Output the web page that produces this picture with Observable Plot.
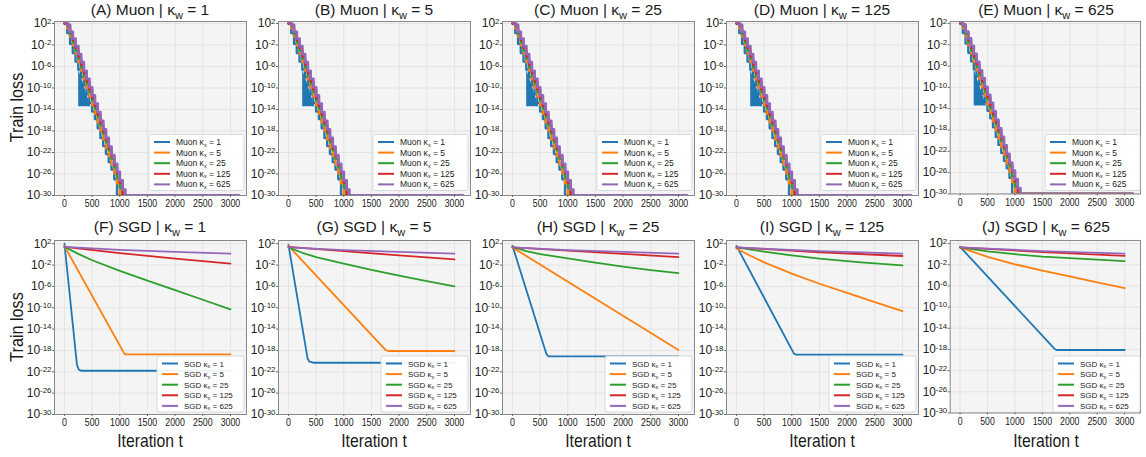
<!DOCTYPE html>
<html><head><meta charset="utf-8">
<script src="https://cdn.jsdelivr.net/npm/d3@7"></script>
<script src="https://cdn.jsdelivr.net/npm/@observablehq/plot@0.6"></script>
<style>
html,body{margin:0;padding:0;background:#fff;}
#root{position:relative;width:1146px;height:457px;overflow:hidden;font-family:"Liberation Sans",Arial,sans-serif;}
.panel{position:absolute;}
.panel svg{overflow:visible;}
#overlay{position:absolute;left:0;top:0;}
</style></head><body><div id="root"></div>
<script>
// ---------- data ----------
const KAPPA = [1, 5, 25, 125, 625];
const COLORS = ["#1f77b4", "#ff7f0e", "#2ca02c", "#d62728", "#9467bd"];
const TOP_LETTERS = ["A", "B", "C", "D", "E"];
const BOTTOM_LETTERS = ["F", "G", "H", "I", "J"];
const ITER_TICKS = [0, 500, 1000, 1500, 2000, 2500, 3000];
const LOSS_TICK_EXP = [2, -2, -6, -10, -14, -18, -22, -26, -30];

// Muon: log10(train loss) at these iterations (same picture in every Muon panel)
const muonIter = [0,50,100,150,200,250,300,350,400,450,500,550,600,650,700,750,800,850,900,950,1000,1050,1100,3150];
const muonLog_kx1   = [2.0,0.2,-1.8,-3.5,-5.1,-6.6,-8.0,-9.5,-11.2,-12.8,-14.4,-15.8,-17.5,-19.3,-20.8,-22.3,-23.8,-25.2,-27.0,-30.0,-30.0,-30.0,-30.0,-30.0];
const muonLog_kx5   = [2.0,1.1,-0.45,-2.0,-3.6,-5.2,-6.8,-8.4,-10.0,-11.6,-13.2,-14.8,-16.4,-18.0,-19.6,-21.2,-22.7,-24.3,-25.9,-27.8,-30.0,-30.0,-30.0,-30.0];
const muonLog_kx25  = [2.0,1.5,0.0,-1.55,-3.1,-4.6,-6.2,-7.7,-9.2,-10.8,-12.3,-13.9,-15.4,-17.0,-18.5,-20.1,-21.6,-23.2,-24.8,-26.7,-28.6,-30.0,-30.0,-30.0];
const muonLog_kx125 = [2.0,1.8,0.4,-1.1,-2.6,-4.2,-5.7,-7.2,-8.8,-10.3,-11.9,-13.4,-15.0,-16.5,-18.1,-19.6,-21.2,-22.7,-24.3,-25.8,-27.6,-30.0,-30.0,-30.0];
const muonLog_kx625 = [2.3,1.7,0.45,-0.8,-2.2,-3.7,-5.2,-6.8,-8.3,-9.9,-11.4,-12.9,-14.5,-16.1,-17.7,-19.3,-20.9,-22.5,-24.1,-25.6,-27.2,-28.9,-30.0,-30.0];
const muonSeries = [muonLog_kx1, muonLog_kx5, muonLog_kx25, muonLog_kx125, muonLog_kx625];
// oscillation band of the kx=1 run (filled region)
const muonBandIter = [257, 480];
const muonBandLow  = [-13.5, -13.5];
const muonBandHigh = [-6.6, -13.5];

// SGD: [iteration, log10(train loss)] per kappa_x, one array per kappa_w panel
const sgd_kw1 = [
  [[0,2.0],[226,-20.7],[260,-21.6],[300,-21.8],[3000,-21.8]],
  [[0,1.55],[1082,-18.6],[1110,-18.75],[3000,-18.75]],
  [[0,1.4],[250,0.1],[500,-1.1],[1000,-3.1],[1500,-4.9],[2000,-6.7],[2500,-8.5],[3000,-10.3]],
  [[0,1.4],[1000,0.25],[2000,-0.8],[3000,-1.74]],
  [[0,1.4],[1000,0.85],[2000,0.45],[3000,0.13]]
];
const sgd_kw5 = [
  [[0,1.8],[345,-19.5],[380,-20.1],[446,-20.3],[3000,-20.3]],
  [[0,1.6],[1753,-17.9],[1800,-18.1],[3000,-18.1]],
  [[0,1.3],[250,0.3],[500,-0.5],[1000,-1.75],[1500,-2.9],[2000,-4.0],[2500,-5.0],[3000,-6.0]],
  [[0,1.4],[1000,0.6],[2000,-0.2],[3000,-0.93]],
  [[0,1.3],[1000,0.8],[2000,0.45],[3000,0.13]]
];
const sgd_kw25 = [
  [[0,1.6],[615,-18.7],[650,-19.1],[3000,-19.1]],
  [[0,1.3],[1500,-8.3],[3000,-17.9]],
  [[0,1.4],[250,0.6],[500,0.05],[1000,-0.75],[1500,-1.55],[2000,-2.3],[2500,-2.95],[3000,-3.5]],
  [[0,1.3],[1000,0.7],[2000,0.1],[3000,-0.5]],
  [[0,1.3],[1000,0.8],[2000,0.45],[3000,0.13]]
];
const sgd_kw125 = [
  [[0,1.6],[1039,-18.6],[1080,-18.8],[3000,-18.8]],
  [[0,1.1],[250,-0.25],[500,-1.5],[1000,-3.6],[1500,-5.5],[2000,-7.2],[2500,-8.95],[3000,-10.65]],
  [[0,1.3],[500,0.5],[1000,-0.2],[1500,-0.8],[2250,-1.5],[3000,-2.05]],
  [[0,1.3],[1500,0.4],[3000,-0.3]],
  [[0,1.3],[1500,0.6],[3000,0.13]]
];
const sgd_kw625 = [
  [[0,1.4],[1723,-17.9],[1760,-18.1],[3000,-18.1]],
  [[0,1.3],[500,-0.5],[1000,-1.9],[1500,-3.1],[2000,-4.2],[2500,-5.3],[3000,-6.4]],
  [[0,1.3],[500,0.55],[1000,0.0],[1500,-0.45],[2250,-0.9],[3000,-1.3]],
  [[0,1.3],[1500,0.4],[3000,-0.3]],
  [[0,1.3],[1500,0.6],[3000,0.13]]
];
const sgdPanels = [sgd_kw1, sgd_kw5, sgd_kw25, sgd_kw125, sgd_kw625];

// ---------- layout ----------
const FRAME_W = 192, FRAME_H = 174;
const ML = 36, MR = 6, MT = 4, MB = 22;
const colLeft = c => 54 + 224 * c;
const ROW_TOP = [20.5, 240];
const Y_TOP_EXP = [2.37, 2.6];
const root = document.getElementById("root");

function makePanel(row, col) {
  const yTicks = LOSS_TICK_EXP.map(e => 10 ** e);
  const marks = [
    Plot.frame({fill: "#f4f4f4", stroke: "none"}),
    Plot.gridX(ITER_TICKS, {stroke: "#e0e0e0", strokeOpacity: 1, strokeWidth: 0.8}),
    Plot.gridY(yTicks, {stroke: "#e0e0e0", strokeOpacity: 1, strokeWidth: 0.8})
  ];
  if (row === 0) {
    const band = muonBandIter.map((t, i) => ({t, lo: 10 ** muonBandLow[i], hi: 10 ** muonBandHigh[i]}));
    marks.push(Plot.areaY(band, {x: "t", y1: "lo", y2: "hi", fill: COLORS[0], clip: true}));
    muonSeries.forEach((arr, k) => {
      const data = muonIter.map((t, i) => ({t, loss: 10 ** arr[i]}));
      marks.push(Plot.line(data, {x: "t", y: "loss", stroke: COLORS[k], strokeWidth: k === 4 ? 2.8 : 2.3, curve: "step-after", clip: true}));
    });
  } else {
    sgdPanels[col].forEach((pairs, k) => {
      const data = pairs.map(([t, l]) => ({t, loss: 10 ** l}));
      marks.push(Plot.line(data, {x: "t", y: "loss", stroke: COLORS[k], strokeWidth: 1.8, curve: "linear", clip: true}));
    });
  }
  marks.push(Plot.frame({stroke: "#888", strokeWidth: 1}));
  marks.push(Plot.axisX(ITER_TICKS, {tickSize: 2, tickPadding: 2, label: null, fontSize: 11, stroke: "#666",
    tickFormat: d => String(d)}));
  marks.push(Plot.axisY(yTicks, {tickSize: 2, tickPadding: 1, label: null, fontSize: 12,
    tickFormat: d => "10^" + Math.round(Math.log10(d)), stroke: "#666"}));
  const svg = Plot.plot({
    width: ML + FRAME_W + MR, height: MT + FRAME_H + MB,
    marginLeft: ML, marginRight: MR, marginTop: MT, marginBottom: MB,
    style: {background: "transparent", fontFamily: "'Liberation Sans', Arial, sans-serif", color: "#222", overflow: "visible"},
    x: {domain: [-180, 3290]},
    y: {type: "log", domain: [1e-30, 10 ** Y_TOP_EXP[row]]},
    marks
  });
  // superscript exponents
  d3.select(svg).selectAll('g[aria-label="y-axis tick label"] text').each(function () {
    const m = this.textContent.match(/^10\^(-?\d+)$/);
    if (!m) return;
    this.textContent = "";
    const t = d3.select(this);
    t.append("tspan").text("10");
    t.append("tspan").attr("dy", "-0.45em").attr("font-size", "0.66em").text(m[1]);
  });
  // narrow iteration labels
  d3.select(svg).selectAll('g[aria-label="x-axis tick label"] text').each(function () {
    const tr = this.getAttribute("transform") || "";
    this.setAttribute("transform", tr + " scale(0.8,1)");
  });
  const div = document.createElement("div");
  div.className = "panel";
  div.style.left = (colLeft(col) - ML) + "px";
  div.style.top = (ROW_TOP[row] - MT) + "px";
  div.appendChild(svg);
  root.appendChild(div);
}

for (let r = 0; r < 2; r++) for (let c = 0; c < 5; c++) makePanel(r, c);

// ---------- overlay: titles, axis labels, legends ----------
const ov = d3.select(root).append("svg").attr("id", "overlay").attr("width", 1146).attr("height", 457)
  .style("font-family", "'Liberation Sans', Arial, sans-serif");

const TITLE_BASE = [14.5, 231.7];
for (let r = 0; r < 2; r++) {
  for (let c = 0; c < 5; c++) {
    const cx = colLeft(c) + FRAME_W / 2;
    const letter = r === 0 ? TOP_LETTERS[c] : BOTTOM_LETTERS[c];
    const name = r === 0 ? "Muon" : "SGD";
    const t = ov.append("text").attr("x", cx).attr("y", TITLE_BASE[r]).attr("text-anchor", "middle")
      .attr("font-size", 15.5).attr("fill", "#1a1a1a");
    t.append("tspan").text(`(${letter}) ${name} | κ`);
    t.append("tspan").attr("dy", 4).attr("font-size", 11).text("w");
    t.append("tspan").attr("dy", -4).text(` = ${KAPPA[c]}`);

    // legend
    const fr = colLeft(c) + FRAME_W, fb = ROW_TOP[r] + FRAME_H;
    const bw = r === 0 ? 95 : 87, bh = 56;
    const bx = fr - bw - 2, by = fb - bh - (r === 0 ? 4 : 2);
    const g = ov.append("g");
    g.append("rect").attr("x", bx).attr("y", by).attr("width", bw).attr("height", bh).attr("rx", 2)
      .attr("fill", "#fff").attr("fill-opacity", 0.92).attr("stroke", "#d0d0d0").attr("stroke-width", 0.8);
    KAPPA.forEach((k, i) => {
      const yy = by + 7.5 + 10.6 * i;
      g.append("line").attr("x1", bx + 5).attr("x2", bx + 21).attr("y1", yy).attr("y2", yy)
        .attr("stroke", COLORS[i]).attr("stroke-width", 2);
      const tx = g.append("text").attr("x", bx + 27).attr("y", yy + 3).attr("font-size", r === 0 ? 8.5 : 8).attr("fill", "#222");
      tx.append("tspan").text(`${name} κ`);
      tx.append("tspan").attr("dy", 1.5).attr("font-size", 5.5).text("x");
      tx.append("tspan").attr("dy", -1.5).text(` = ${k}`);
    });
  }
  // y label
  const yc = ROW_TOP[r] + FRAME_H / 2;
  ov.append("text").attr("transform", `translate(22.5,${yc}) rotate(-90) scale(0.9,1)`)
    .attr("text-anchor", "middle").attr("font-size", 18).attr("fill", "#1a1a1a").text("Train loss");
}
for (let c = 0; c < 5; c++) {
  const cx = colLeft(c) + FRAME_W / 2;
  ov.append("text").attr("transform", `translate(${cx},446.5) scale(0.9,1)`)
    .attr("text-anchor", "middle").attr("font-size", 17.5).attr("fill", "#1a1a1a").text("Iteration t");
}
</script>
</body></html>
